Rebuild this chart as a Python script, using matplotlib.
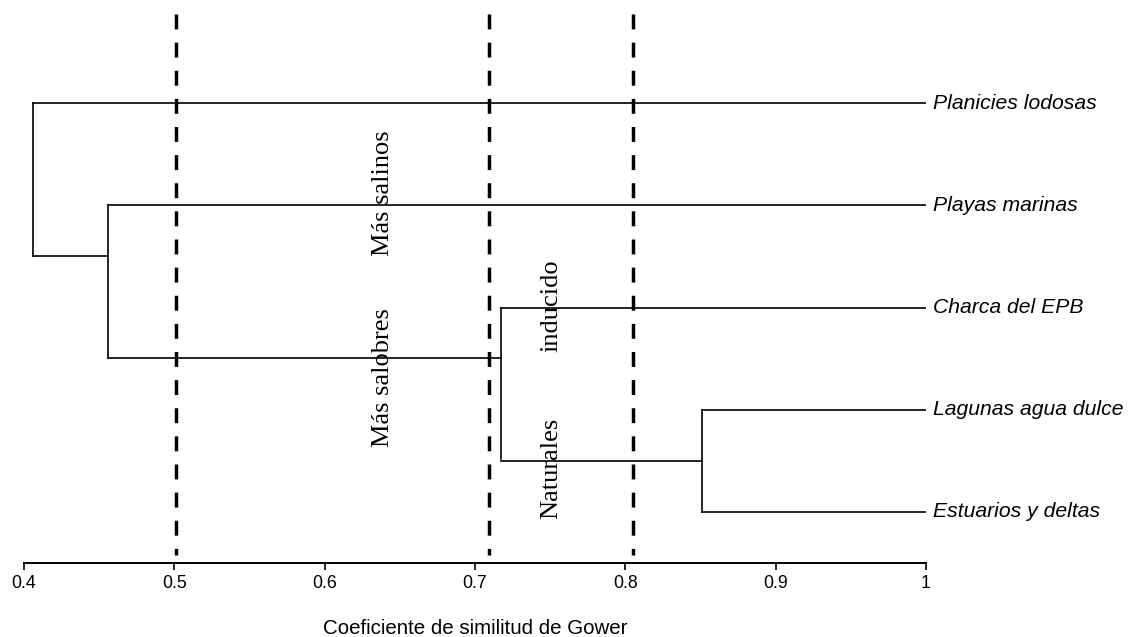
import matplotlib.pyplot as plt

# leaves, top to bottom
leaves = ["Planicies lodosas", "Playas marinas", "Charca del EPB",
          "Lagunas agua dulce", "Estuarios y deltas"]
leaf_y = [0, 1, 2, 3, 4]

# merge nodes: x (similarity), vertical span, y where the parent joins
node_x = [0.851, 0.717, 0.456, 0.406]
node_top = [3, 2, 1, 0]
node_bot = [4, 3.48, 2.49, 1.5]
node_join = [3.5, 2.49, 1.5, None]
# leaf -> x of the node it hangs on
leaf_node_x = [0.406, 0.456, 0.717, 0.851, 0.851]

cuts = [0.501, 0.709, 0.805]

group_labels = ["Más salinos", "Más salobres", "inducido", "Naturales"]
group_x = [0.639, 0.639, 0.751, 0.751]
group_y = [0.88, 2.69, 1.985, 3.57]

fig = plt.figure(figsize=(11.28, 6.37), dpi=100)
ax = fig.add_axes([0.0213, 0.1162, 0.7996, 0.8823])

lw = 1.2
for i in range(len(leaves)):
    ax.plot([leaf_node_x[i], 1.0], [leaf_y[i], leaf_y[i]], color="black", lw=lw)
    ax.text(1.005, leaf_y[i], leaves[i], ha="left", va="center",
            fontsize=15.2, style="italic", family="Liberation Sans")

for i in range(len(node_x)):
    ax.plot([node_x[i], node_x[i]], [node_top[i], node_bot[i]], color="black", lw=lw)
    if node_join[i] is not None:
        # connector to the parent node (next one in the list)
        ax.plot([node_x[i + 1], node_x[i]], [node_join[i], node_join[i]],
                color="black", lw=lw)

for c in cuts:
    ax.plot([c, c], [-0.87, 4.42], color="black", lw=2.5, dashes=(4.3, 3.8))

for i in range(len(group_labels)):
    ax.text(group_x[i], group_y[i], group_labels[i], rotation=90,
            ha="center", va="center", fontsize=19, family="Liberation Serif")

ax.set_xlim(0.4, 1.0)
ax.set_ylim(4.5, -1.0)
ax.set_xticks([0.4, 0.5, 0.6, 0.7, 0.8, 0.9, 1.0])
ax.set_xticklabels(["0.4", "0.5", "0.6", "0.7", "0.8", "0.9", "1"],
                   family="Liberation Sans", fontsize=12.8)
ax.tick_params(axis="x", length=5, width=1.2, pad=4)
ax.set_yticks([])
for s in ["top", "right", "left"]:
    ax.spines[s].set_visible(False)
ax.spines["bottom"].set_linewidth(1.4)
ax.set_xlabel("Coeficiente de similitud de Gower", family="Liberation Sans",
              fontsize=14.8, labelpad=19)

fig.savefig("out.png", dpi=100)
